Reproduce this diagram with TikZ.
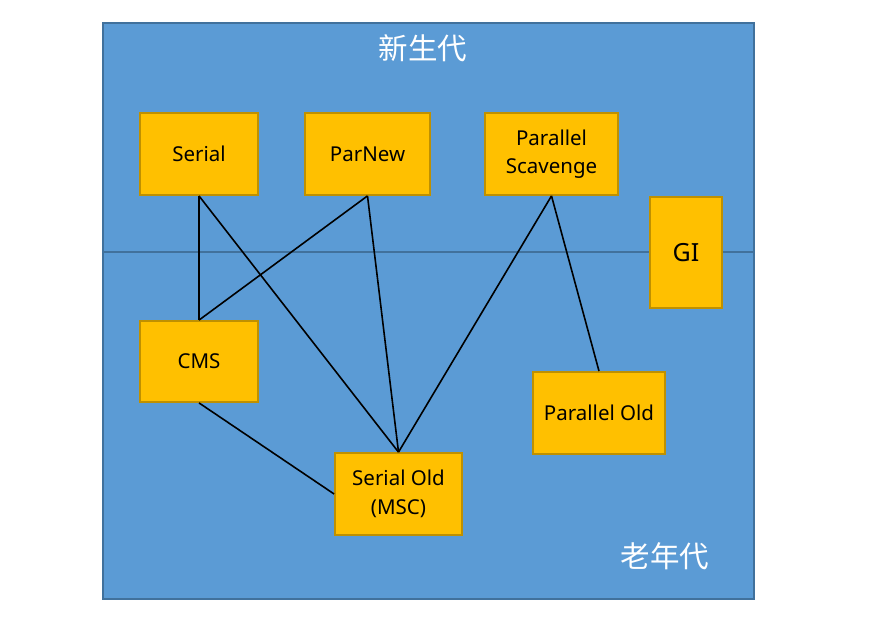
\documentclass[tikz,border=0pt]{standalone}
\usepackage{fontspec}
\setmainfont{Noto Sans}
\newfontfamily\cjk{Noto Sans CJK SC}
\definecolor{heapblue}{HTML}{5B9BD5}
\definecolor{heapedge}{HTML}{41719C}
\definecolor{gcfill}{HTML}{FFC000}
\definecolor{gcedge}{HTML}{BF9000}
\tikzset{
  gcbox/.style={draw=gcedge, fill=gcfill, line width=1.8pt, inner sep=0pt,
    align=center, font=\fontsize{20.5}{28.5}\selectfont},
  link/.style={line width=1.6pt, black}
}
\begin{document}
\begin{tikzpicture}[x=1pt, y=-1pt]
		% Bounding Rectangle
		\useasboundingbox (0,0) rectangle (870,626);
		\draw[heapedge, fill=heapblue, line width=1.5pt] (103,23) rectangle (754,599);
		\draw[heapedge, line width=1.2pt] (103,252) -- (754,252);
		% Labels
		\node[white, font=\cjk\fontsize{29.5}{33}\selectfont] (young) at (423,48) {新生代};
		\node[white, font=\cjk\fontsize{29.5}{33}\selectfont] (old) at (665,556) {老年代};
		% Collectors
		\node[gcbox, minimum width=118pt, minimum height=82pt] (serial) at (199,154) {Serial};
		\node[gcbox, minimum width=125pt, minimum height=82pt] (parnew) at (367.5,154) {ParNew};
		\node[gcbox, minimum width=133pt, minimum height=82pt] (scavenge) at (551.5,154) {Parallel\\Scavenge};
		\node[gcbox, minimum width=72pt, minimum height=111pt, font=\fontsize{25}{30}\selectfont] (gi) at (686,252.5) {GI};
		\node[gcbox, minimum width=118pt, minimum height=81pt] (cms) at (199,361.5) {CMS};
		\node[gcbox, minimum width=132pt, minimum height=82pt] (parold) at (599,413) {Parallel Old};
		\node[gcbox, minimum width=127pt, minimum height=82pt] (serialold) at (398.5,494) {Serial Old\\(MSC)};
		% Combinations
		\draw[link] (serial.south) -- (cms.north);
		\draw[link] (serial.south) -- (serialold.north);
		\draw[link] (parnew.south) -- (cms.north);
		\draw[link] (parnew.south) -- (serialold.north);
		\draw[link] (scavenge.south) -- (serialold.north);
		\draw[link] (scavenge.south) -- (parold.north);
		\draw[link] (cms.south) -- (serialold.west);
	\end{tikzpicture}
\end{document}
